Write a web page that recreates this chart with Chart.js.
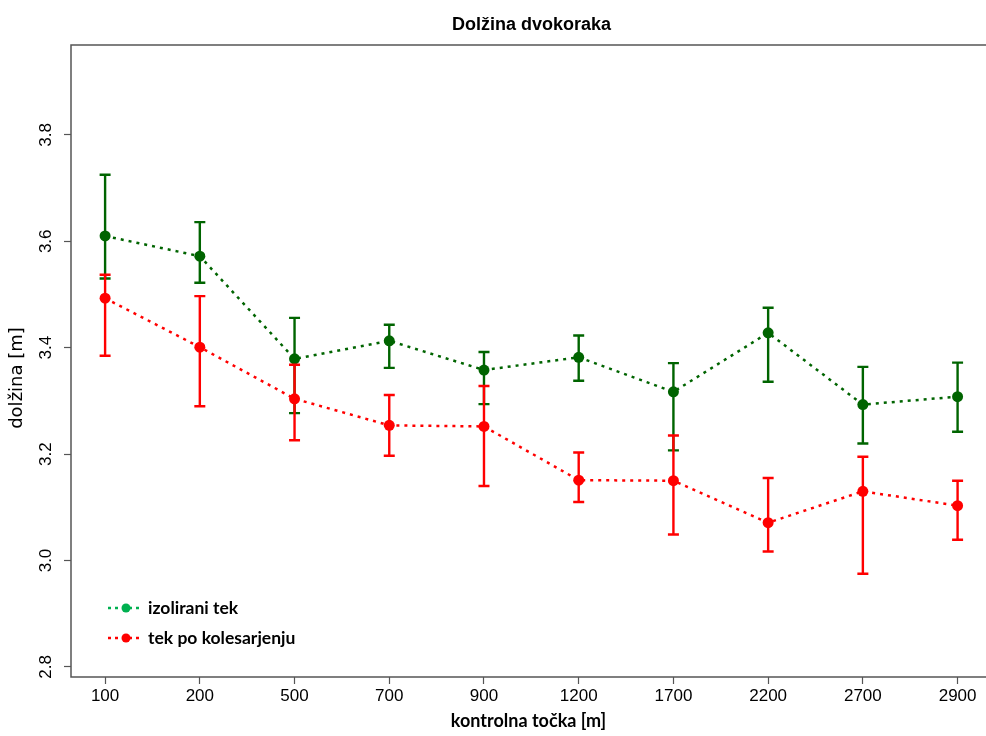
<!DOCTYPE html>
<html>
<head>
<meta charset="utf-8">
<title>Dolžina dvokoraka</title>
<script src="https://cdn.jsdelivr.net/npm/chart.js@4"></script>
<style>
	html, body { margin: 0; padding: 0; background: #fff; }
	#wrap { width: 986px; height: 736px; position: relative; }
</style>
</head>
<body>
<div id="wrap"><canvas id="chart"></canvas></div>
<script>
const chartTitle = "Dolžina dvokoraka";
const xTitle = "kontrolna točka [m]";
const yTitle = "dolžina [m]";

const categories = ["100", "200", "500", "700", "900", "1200", "1700", "2200", "2700", "2900"];
const yTicks = [2.8, 3.0, 3.2, 3.4, 3.6, 3.8];

// izolirani tek
const isoMean = [3.610, 3.572, 3.379, 3.413, 3.358, 3.382, 3.317, 3.428, 3.293, 3.308];
const isoLow = [3.530, 3.522, 3.277, 3.362, 3.294, 3.338, 3.207, 3.336, 3.220, 3.242];
const isoHigh = [3.725, 3.636, 3.456, 3.443, 3.392, 3.423, 3.371, 3.475, 3.364, 3.372];

// tek po kolesarjenju
const bikeMean = [3.493, 3.401, 3.304, 3.254, 3.252, 3.151, 3.150, 3.071, 3.130, 3.103];
const bikeLow = [3.385, 3.290, 3.226, 3.197, 3.140, 3.110, 3.049, 3.017, 2.975, 3.039];
const bikeHigh = [3.537, 3.497, 3.368, 3.311, 3.328, 3.203, 3.235, 3.155, 3.195, 3.150];

const GREEN = "#006400";
const RED = "#ff0000";
const LEGEND_GREEN = "#00b050";

function toPoints(values) {
	return values.map(function (v, i) {
		return { x: i + 1, y: v };
	});
}

// error bars are drawn just before each dataset's own line and points
const errorBars = {
	id: "errorBars",
	beforeDatasetDraw: function (chart, args) {
		const ds = chart.data.datasets[args.index];
		if (!ds.low) {
			return;
		}
		const ctx = chart.ctx;
		const xs = chart.scales.x;
		const ys = chart.scales.y;
		ctx.save();
		ctx.strokeStyle = ds.borderColor;
		ctx.lineWidth = 2.4;
		ctx.setLineDash([]);
		for (let i = 0; i < ds.low.length; i++) {
			const px = xs.getPixelForValue(i + 1);
			const lo = ys.getPixelForValue(ds.low[i]);
			const hi = ys.getPixelForValue(ds.high[i]);
			ctx.beginPath();
			ctx.moveTo(px, lo);
			ctx.lineTo(px, hi);
			ctx.moveTo(px - 5.5, lo);
			ctx.lineTo(px + 5.5, lo);
			ctx.moveTo(px - 5.5, hi);
			ctx.lineTo(px + 5.5, hi);
			ctx.stroke();
		}
		ctx.restore();
	}
};

const decorations = {
	id: "decorations",
	afterDraw: function (chart) {
		const ctx = chart.ctx;
		const a = chart.chartArea;
		ctx.save();

		// box (right side falls outside the picture)
		ctx.strokeStyle = "#555";
		ctx.lineWidth = 1.5;
		ctx.beginPath();
		ctx.moveTo(chart.width, a.top);
		ctx.lineTo(a.left, a.top);
		ctx.lineTo(a.left, a.bottom);
		ctx.lineTo(chart.width, a.bottom);
		ctx.stroke();

		// title, centred over the plot region
		ctx.fillStyle = "#000";
		ctx.font = "bold 18px 'Liberation Sans'";
		ctx.textAlign = "center";
		ctx.textBaseline = "middle";
		ctx.fillText(chartTitle, (a.left + a.right) / 2 + 3, 25);

		// y axis title
		ctx.save();
		ctx.translate(17, 378);
		ctx.rotate(-Math.PI / 2);
		ctx.font = "18px 'DejaVu Sans'";
		ctx.fillText(yTitle, 0, 0);
		ctx.restore();

		// legend
		const items = [
			{ label: "izolirani tek", color: LEGEND_GREEN, y: 608 },
			{ label: "tek po kolesarjenju", color: RED, y: 638 }
		];
		items.forEach(function (item) {
			ctx.strokeStyle = item.color;
			ctx.fillStyle = item.color;
			ctx.lineWidth = 2.5;
			ctx.setLineDash([3, 4]);
			ctx.beginPath();
			ctx.moveTo(108, item.y);
			ctx.lineTo(143, item.y);
			ctx.stroke();
			ctx.setLineDash([]);
			ctx.beginPath();
			ctx.arc(126, item.y, 4.5, 0, Math.PI * 2);
			ctx.fill();
			ctx.fillStyle = "#000";
			ctx.font = "bold 17.5px Lato";
			ctx.textAlign = "left";
			ctx.fillText(item.label, 148, item.y);
		});
		ctx.restore();
	}
};

new Chart(document.getElementById("chart"), {
	type: "line",
	data: {
		datasets: [
			{
				label: "izolirani tek",
				data: toPoints(isoMean),
				low: isoLow,
				high: isoHigh,
				borderColor: GREEN,
				backgroundColor: GREEN,
				borderWidth: 2.5,
				borderDash: [3, 5],
				pointRadius: 5.5,
				pointBorderWidth: 0,
				order: 1
			},
			{
				label: "tek po kolesarjenju",
				data: toPoints(bikeMean),
				low: bikeLow,
				high: bikeHigh,
				borderColor: RED,
				backgroundColor: RED,
				borderWidth: 2.5,
				borderDash: [3, 5],
				pointRadius: 5.5,
				pointBorderWidth: 0,
				order: 0
			}
		]
	},
	options: {
		responsive: true,
		maintainAspectRatio: false,
		animation: false,
		layout: { autoPadding: false, padding: { top: 45, left: 0, right: 0, bottom: 0 } },
		plugins: {
			legend: { display: false },
			tooltip: { enabled: false },
			title: { display: false }
		},
		scales: {
			x: {
				type: "linear",
				min: 0.64,
				max: 10.3,
				afterBuildTicks: function (scale) {
					scale.ticks = categories.map(function (c, i) {
						return { value: i + 1 };
					});
				},
				afterFit: function (scale) {
					scale.height = 59;
					scale.paddingLeft = 0;
					scale.paddingRight = 0;
				},
				ticks: {
					color: "#000",
					font: { family: "Liberation Sans", size: 17 },
					padding: 2,
					maxRotation: 0,
					callback: function (value) {
						return categories[value - 1];
					}
				},
				grid: { drawOnChartArea: false, tickLength: 7, color: "#555", tickWidth: 1.2 },
				border: { display: false },
				title: {
					display: true,
					text: xTitle,
					color: "#000",
					font: { family: "Lato", size: 18, weight: "bold" },
					padding: { top: 0, bottom: 4 }
				}
			},
			y: {
				min: 2.781,
				max: 3.969,
				afterBuildTicks: function (scale) {
					scale.ticks = yTicks.map(function (v) {
						return { value: v };
					});
				},
				afterFit: function (scale) {
					scale.width = 71;
					scale.paddingTop = 0;
					scale.paddingBottom = 0;
				},
				ticks: {
					color: "#000",
					font: { family: "Liberation Sans", size: 17 },
					padding: 6,
					minRotation: 90,
					maxRotation: 90,
					crossAlign: "center",
					callback: function (value) {
						return value.toFixed(1);
					}
				},
				grid: { drawOnChartArea: false, tickLength: 7, color: "#555", tickWidth: 1.2 },
				border: { display: false },
				title: { display: false }
			}
		}
	},
	plugins: [errorBars, decorations]
});
</script>
</body>
</html>
